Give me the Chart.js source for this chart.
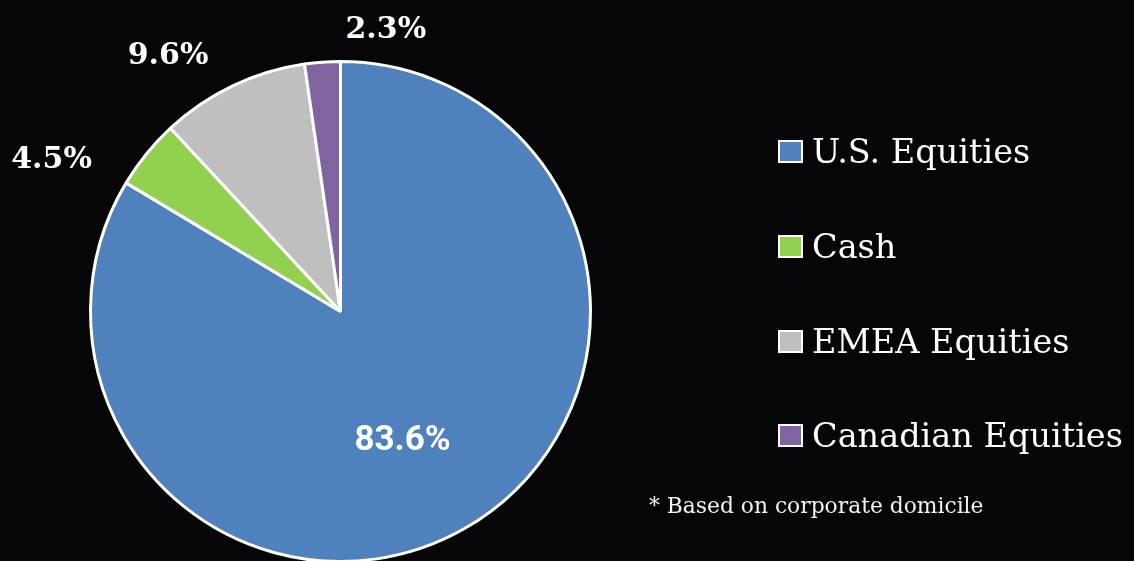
<!DOCTYPE html>
<html>
<head>
<meta charset="utf-8">
<script src="https://cdn.jsdelivr.net/npm/chart.js@4.4.0/dist/chart.umd.min.js"></script>
<style>
  html, body { margin: 0; padding: 0; background: #060608; overflow: hidden; }
  #wrap { position: relative; width: 1134px; height: 561px; overflow: hidden; }
  #box { position: absolute; left: 0; top: 0; width: 1134px; height: 600px; }
  #legend { position: absolute; left: 778px; top: 0; }
  .item { position: absolute; left: 0; white-space: nowrap; display: flex; align-items: center;
          font-family: "DejaVu Serif", serif; font-size: 33.5px; color: #fff; }
  .sw { width: 21px; height: 19px; border: 2px solid #fff; margin-right: 9px; }
  #note { position: absolute; left: 649px; top: 493px; font-family: "DejaVu Serif", serif;
          font-size: 21.8px; color: #f2f2f2; white-space: nowrap; }
</style>
</head>
<body>
<div id="wrap">
  <div id="box"><canvas id="pie"></canvas></div>
  <div id="legend"></div>
  <div id="note">* Based on corporate domicile</div>
</div>
<script>
// --- données ---
const categories = ['U.S. Equities', 'Cash', 'EMEA Equities', 'Canadian Equities'];
const shares = [83.6, 4.5, 9.6, 2.3];
const colors = ['#4F81BD', '#92D050', '#BFBFBF', '#8064A2'];

// décalage des étiquettes par rapport à la position radiale (px)
const labelRadius = [0.52, 1.2, 1.2, 1.2];
const labelNudge = [[-2, 17], [-56, 38], [-43, 15], [67, 18]];

const pctLabels = {
    id: 'pctLabels',
    afterDatasetsDraw(chart) {
        const ctx = chart.ctx;
        const arcs = chart.getDatasetMeta(0).data;
        ctx.save();
        ctx.textAlign = 'center';
        ctx.textBaseline = 'middle';
        ctx.fillStyle = '#ffffff';
        arcs.forEach((arc, i) => {
            const { x, y, startAngle, endAngle, outerRadius } = arc.getProps(['x', 'y', 'startAngle', 'endAngle', 'outerRadius'], true);
            const mid = (startAngle + endAngle) / 2;
            const r = outerRadius * labelRadius[i];
            const lx = x + Math.cos(mid) * r + labelNudge[i][0];
            const ly = y + Math.sin(mid) * r + labelNudge[i][1];
            ctx.font = i === 0 ? 'bold 35px Roboto, sans-serif' : 'bold 30px "DejaVu Serif", serif';
            ctx.fillText(shares[i].toFixed(1) + '%', lx, ly);
        });
        ctx.restore();
    }
};

new Chart(document.getElementById('pie'), {
    type: 'pie',
    data: {
        labels: categories,
        datasets: [{
            data: shares,
            backgroundColor: colors,
            borderColor: '#ffffff',
            borderWidth: 3
        }]
    },
    options: {
        responsive: true,
        maintainAspectRatio: false,
        animation: false,
        layout: { padding: { left: 89, right: 542, top: 60, bottom: 37 } },
        plugins: {
            legend: { display: false },
            tooltip: { enabled: false }
        }
    },
    plugins: [pctLabels]
});

// légende HTML
const legend = document.getElementById('legend');
const legendY = [151, 246, 341, 435];
categories.forEach((name, i) => {
    const row = document.createElement('div');
    row.className = 'item';
    row.style.top = (legendY[i] - 22) + 'px';
    row.style.height = '44px';
    row.innerHTML = '<div class="sw" style="background:' + colors[i] + '"></div><span>' + name + '</span>';
    legend.appendChild(row);
});
</script>
</body>
</html>
